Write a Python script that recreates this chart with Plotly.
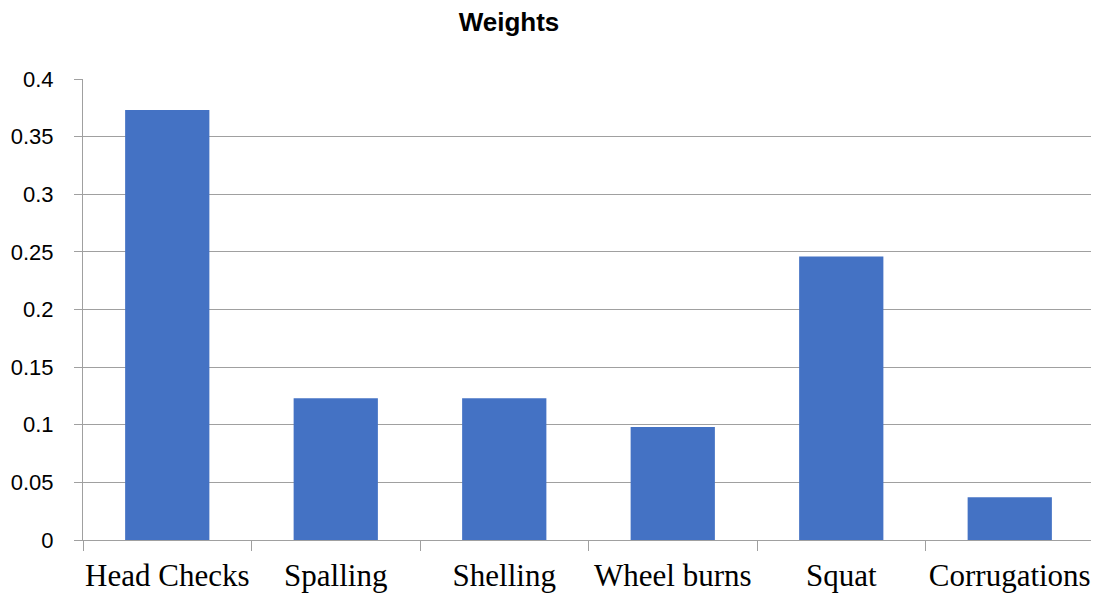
import plotly.graph_objects as go

categories = ["Head Checks", "Spalling", "Shelling", "Wheel burns", "Squat", "Corrugations"]
weights = [0.373, 0.123, 0.123, 0.098, 0.246, 0.037]
y_ticks = [0, 0.05, 0.1, 0.15, 0.2, 0.25, 0.3, 0.35, 0.4]
y_tick_text = ["0", "0.05", "0.1", "0.15", "0.2", "0.25", "0.3", "0.35", "0.4"]

grid = "#a0a0a0"
off = 8  # page body margin offset

fig = go.Figure(go.Bar(x=categories, y=weights, marker=dict(color="#4472C4", line=dict(width=0))))

fig.update_layout(
    width=1099, height=594,
    margin=dict(l=83 - off, r=5 + off, t=79 - off, b=54 + off, autoexpand=False),
    paper_bgcolor="white", plot_bgcolor="white",
    bargap=0.5,
    showlegend=False,
    title=dict(text="<b>Weights</b>", x=(509 - off)/1099, xanchor="center", xref="container",
               y=1-(22 - off)/594, yanchor="middle", yref="container",
               font=dict(family="Liberation Sans", size=26, color="black")),
)
fig.update_xaxes(
    type="category", tickson="boundaries", ticks="outside", ticklen=10, tickcolor=grid,
    showline=True, linecolor=grid, linewidth=1, showgrid=False, automargin=False,
    tickangle=0,
    tickfont=dict(family="Liberation Serif", size=31, color="black"),
    ticklabelstandoff=8,
)
fig.update_yaxes(
    range=[0, 0.4], tickvals=y_ticks, ticktext=y_tick_text,
    ticks="outside", ticklen=8, tickcolor=grid, automargin=False,
    showgrid=True, gridcolor=grid, gridwidth=1,
    showline=True, linecolor=grid, linewidth=1, zeroline=False,
    tickfont=dict(family="Liberation Sans", size=22, color="black"),
    ticklabelstandoff=16,
)

fig.write_html("out.html")
